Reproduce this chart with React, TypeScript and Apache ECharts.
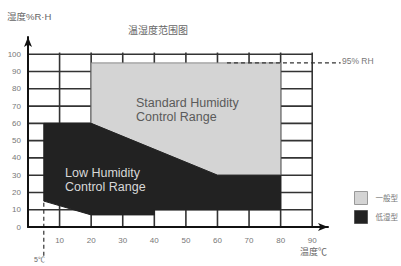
import React, { useEffect, useRef } from "react";
import * as echarts from "echarts";

const xTicks = [0, 10, 20, 30, 40, 50, 60, 70, 80, 90];
const yTicks = [0, 10, 20, 30, 40, 50, 60, 70, 80, 90, 100];
const standardRange = [[20, 95], [80, 95], [80, 30], [60, 30], [20, 60]];
const lowRange = [[5, 60], [20, 60], [60, 30], [80, 30], [80, 10], [40, 10], [40, 7], [20, 7], [5, 15]];
const rhLimit = 95;
const rhLine = [[63, 95], [99, 95]];
const tempLimit = 5;
const tempLine = [[5, 14], [5, -18]];
const legendNames = ["一般型", "低湿型"];

const FONT = "'Liberation Sans', Arial, 'Noto Sans CJK SC', sans-serif";

export default function App() {
  const ref = useRef<HTMLDivElement>(null);
  useEffect(() => {
    const chart = echarts.init(ref.current!, null, { renderer: "svg" });
    const gridData: number[][] = [];
    xTicks.forEach((x) => gridData.push([x, 0, x, 101]));
    yTicks.forEach((y) => gridData.push([0, y, 90, y]));
    const polySeries = (name: string, pts: number[][], color: string, stroke: string) => ({
      type: "custom",
      name,
      z: 3,
      itemStyle: { color, borderColor: stroke },
      data: [[0, 0]],
      renderItem: (params: any, api: any) => ({
        type: "polygon",
        shape: { points: pts.map((p) => api.coord(p)) },
        style: { fill: color, stroke, lineWidth: 1 },
      }),
    });
    const dashSeries = (pts: number[][]) => ({
      type: "custom",
      z: 4,
      silent: true,
      clip: false,
      data: [[0, 0]],
      renderItem: (params: any, api: any) => {
        const a = api.coord(pts[0]);
        const b = api.coord(pts[1]);
        return {
          type: "line",
          shape: { x1: a[0], y1: a[1], x2: b[0], y2: b[1] },
          style: { stroke: "#333", lineWidth: 1.2, lineDash: [4, 3] },
        };
      },
    });
    chart.setOption({
      animation: false,
      textStyle: { fontFamily: FONT },
      grid: { left: 28, right: 73, top: 37, bottom: 39 },
      xAxis: {
        type: "value",
        min: 0,
        max: 95,
        interval: 10,
        z: 6,
        splitLine: { show: false },
        axisTick: { show: false },
        axisLine: { lineStyle: { color: "#111", width: 2 }, symbol: ["none", "arrow"], symbolSize: [6, 10] },
        axisLabel: {
          fontSize: 8,
          color: "#777",
          margin: 9,
          fontFamily: FONT,
          formatter: (v: number) => (v > 0 && v <= 90 && v % 10 === 0 ? String(v) : ""),
        },
      },
      yAxis: {
        type: "value",
        min: 0,
        max: 110,
        interval: 10,
        z: 6,
        splitLine: { show: false },
        axisTick: { show: false },
        axisLine: { lineStyle: { color: "#111", width: 2 }, symbol: ["none", "arrow"], symbolSize: [6, 10] },
        axisLabel: {
          fontSize: 8,
          color: "#777",
          margin: 7,
          fontFamily: FONT,
          formatter: (v: number) => (v <= 100 ? String(v) : ""),
        },
      },
      legend: {
        orient: "vertical",
        left: 349,
        top: 186,
        itemWidth: 13,
        itemHeight: 13,
        itemGap: 5,
        textStyle: { fontSize: 7.5, color: "#777", fontFamily: FONT, padding: [0, 0, 0, 3] },
        data: [
          { name: legendNames[0], icon: "rect", itemStyle: { color: "#d4d4d4", borderColor: "#999", borderWidth: 1 } },
          { name: legendNames[1], icon: "rect", itemStyle: { color: "#222", borderColor: "#555", borderWidth: 1 } },
        ],
      },
      graphic: [
        { type: "text", left: 7, top: 12, style: { text: "湿度%R·H", fontSize: 9.5, fill: "#666", fontFamily: FONT } },
        { type: "text", left: 128, top: 25, style: { text: "温湿度范围图", fontSize: 10, fill: "#666", fontFamily: FONT } },
        { type: "text", left: 300, top: 247, style: { text: "温度℃", fontSize: 9, fill: "#666", fontFamily: FONT } },
        { type: "text", left: 34, top: 256, style: { text: tempLimit + "℃", fontSize: 7, fill: "#666", fontFamily: FONT } },
        { type: "text", left: 342, top: 57, style: { text: rhLimit + "% RH", fontSize: 8.5, fill: "#777", fontFamily: FONT } },
        { type: "text", left: 136, top: 96, z: 20, style: { text: "Standard Humidity\nControl Range", fontSize: 12.5, lineHeight: 14, fill: "#5a5a5a", fontFamily: FONT } },
        { type: "text", left: 65, top: 166, z: 20, style: { text: "Low Humidity\nControl Range", fontSize: 12.5, lineHeight: 14, fill: "#d8d8d8", fontFamily: FONT } },
      ],
      series: [
        {
          type: "custom",
          z: 2,
          silent: true,
          clip: false,
          data: gridData,
          renderItem: (params: any, api: any) => {
            const a = api.coord([api.value(0), api.value(1)]);
            const b = api.coord([api.value(2), api.value(3)]);
            return {
              type: "line",
              shape: { x1: a[0], y1: a[1], x2: b[0], y2: b[1] },
              style: { stroke: "#333", lineWidth: 1.6 },
            };
          },
        },
        polySeries(legendNames[0], standardRange, "#d4d4d4", "#888"),
        polySeries(legendNames[1], lowRange, "#222", "#222"),
        dashSeries(rhLine),
        dashSeries(tempLine),
      ],
    });
    return () => chart.dispose();
  }, []);
  return <div ref={ref} style={{ width: 401, height: 266, position: "absolute", left: 0, top: 0, background: "#fff" }} />;
}
